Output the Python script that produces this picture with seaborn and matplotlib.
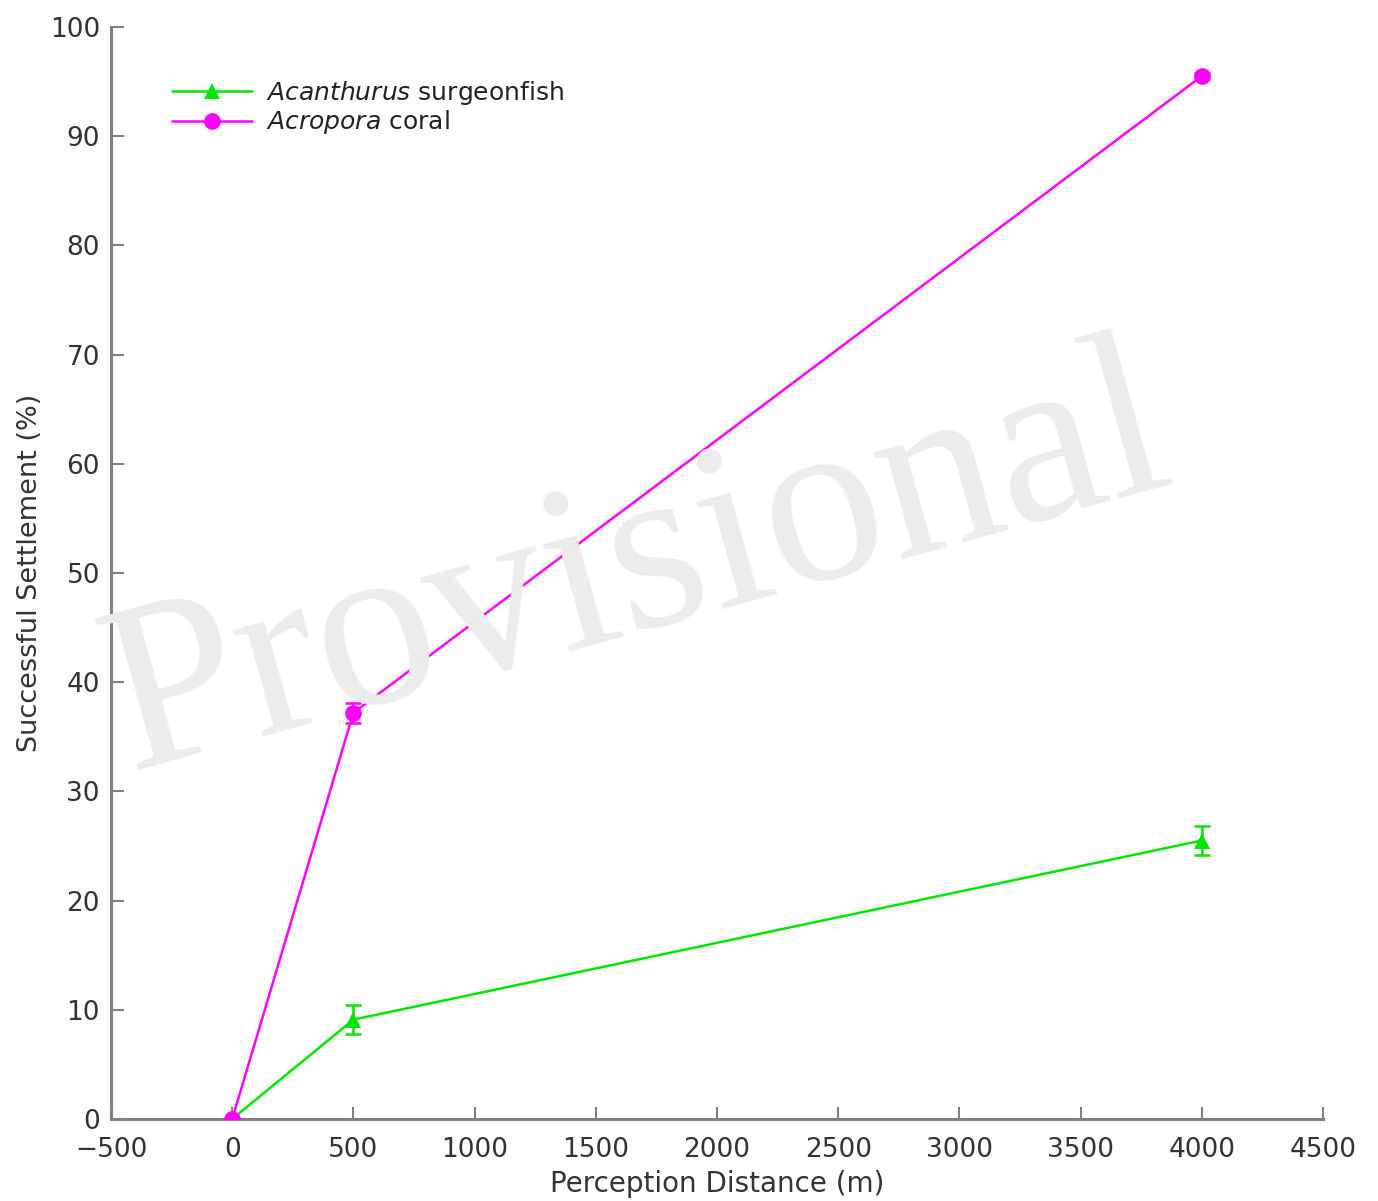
import matplotlib
matplotlib.use("Agg")
import matplotlib.pyplot as plt
import seaborn as sns
import pandas as pd
import numpy as np

# Data
distance = [0, 500, 4000]
fish_mean = [0.0, 9.1, 25.5]
fish_err = [0.0, 1.3, 1.3]
coral_mean = [0.0, 37.2, 95.5]
coral_err = [0.0, 0.9, 0.3]
x_ticks = [-500, 0, 500, 1000, 1500, 2000, 2500, 3000, 3500, 4000, 4500]
y_ticks = [0, 10, 20, 30, 40, 50, 60, 70, 80, 90, 100]

sns.set_theme(style="white")
plt.rcParams['font.family'] = ['DejaVu Sans']
plt.rcParams['mathtext.fontset'] = 'custom'
plt.rcParams['mathtext.it'] = 'DejaVu Sans:italic'

GREEN = "#00e600"
MAGENTA = "#ff00ff"

fig = plt.figure(figsize=(13.78, 12.01), dpi=100)
ax = fig.add_axes([0.0806, 0.0683, 0.960 - 0.0806, 0.9775 - 0.0683])

# watermark
fig.text(0.463, 0.525, "Provisional", fontsize=172, family="Liberation Serif",
         color="#ececec", rotation=15.5, ha="center", va="center", zorder=0)
ax.patch.set_alpha(0)

lab_fish = "$\\it{Acanthurus}$ surgeonfish"
lab_coral = "$\\it{Acropora}$ coral"
df = pd.DataFrame({
    "distance": distance * 2,
    "value": fish_mean + coral_mean,
    "series": [lab_fish] * 3 + [lab_coral] * 3,
})

sns.lineplot(data=df, x="distance", y="value", hue="series", style="series",
             markers={lab_fish: "^", lab_coral: "o"},
             dashes=False, palette=[GREEN, MAGENTA], linewidth=1.8, markersize=12,
             markeredgewidth=0, ax=ax, zorder=3)

ax.errorbar(distance, fish_mean, yerr=fish_err, fmt="none", ecolor=GREEN,
            elinewidth=1.8, capsize=6, capthick=1.8, zorder=2)
ax.errorbar(distance, coral_mean, yerr=coral_err, fmt="none", ecolor=MAGENTA,
            elinewidth=1.8, capsize=6, capthick=1.8, zorder=2)

ax.set_xlim(-500, 4500)
ax.set_ylim(0, 100)
ax.set_xticks(x_ticks)
ax.set_yticks(y_ticks)
ax.set_xticklabels([str(t).replace("-", "\u2212") for t in x_ticks])
ax.tick_params(direction="in", length=9, width=1.5, color="#808080",
               labelsize=19, labelcolor="#333333", bottom=True, left=True)
ax.tick_params(axis="x", pad=13)
ax.tick_params(axis="y", pad=8)
for s in ["top", "right"]:
    ax.spines[s].set_visible(False)
for s in ["left", "bottom"]:
    ax.spines[s].set_color("#808080")
    ax.spines[s].set_linewidth(2.2)

ax.set_xlabel("Perception Distance (m)", fontsize=20, color="#333333", labelpad=5)
ax.set_ylabel("Successful Settlement (%)", fontsize=19.5, color="#333333", labelpad=5)

leg = ax.legend(loc="upper left", bbox_to_anchor=(0.032, 0.973), frameon=False,
                fontsize=18, handlelength=3.2, labelspacing=0.05, handletextpad=0.55,
                labelcolor="#222222")

fig.savefig("out.png", dpi=100)
